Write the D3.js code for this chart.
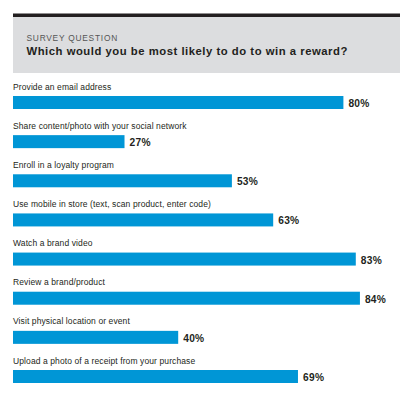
<!DOCTYPE html>
<html>
<head>
<meta charset="utf-8">
<script src="https://cdn.jsdelivr.net/npm/d3@7"></script>
<style>
html,body{margin:0;padding:0;background:#fff;}
svg{display:block;}
</style>
</head>
<body>
<svg id="chart" width="400" height="403"></svg>
<script>
const categories = [
  "Provide an email address",
  "Share content/photo with your social network",
  "Enroll in a loyalty program",
  "Use mobile in store (text, scan product, enter code)",
  "Watch a brand video",
  "Review a brand/product",
  "Visit physical location or event",
  "Upload a photo of a receipt from your purchase"
];
const values = [80, 27, 53, 63, 83, 84, 40, 69];
const headerKicker = "SURVEY QUESTION";
const headerTitle = "Which would you be most likely to do to win a reward?";

const svg = d3.select("#chart");
const font = "'Liberation Sans', Arial, sans-serif";

// header
svg.append("rect").attr("x", 13).attr("y", 17).attr("width", 387).attr("height", 56).attr("fill", "#dcdddf");
svg.append("rect").attr("x", 13).attr("y", 13.5).attr("width", 387).attr("height", 3.5).attr("fill", "#231f20");
svg.append("text").attr("x", 26.5).attr("y", 41)
  .attr("font-family", font).attr("font-size", 8.4).attr("letter-spacing", 0.75)
  .attr("fill", "#555").text(headerKicker);
svg.append("text").attr("x", 26.5).attr("y", 55)
  .attr("font-family", font).attr("font-size", 11.3).attr("font-weight", 700).attr("letter-spacing", 0.52)
  .attr("fill", "#231f20").text(headerTitle);

const x = d3.scaleLinear().domain([0, 100]).range([13, 426]);
const y = d3.scalePoint().domain(categories).range([96, 370]);
const barH = 13;

const data = categories.map((c, i) => ({c, v: values[i]}));
const g = svg.append("g");

g.selectAll("rect.bar").data(data).join("rect").attr("class", "bar")
  .attr("x", x(0)).attr("y", d => y(d.c))
  .attr("width", d => x(d.v) - x(0)).attr("height", barH)
  .attr("fill", "#0096d6");

g.selectAll("text.cat").data(data).join("text").attr("class", "cat")
  .attr("x", x(0)).attr("y", d => y(d.c) - 6.5)
  .attr("font-family", font).attr("font-size", 8.5).attr("letter-spacing", 0.1).attr("fill", "#231f20")
  .text(d => d.c);

g.selectAll("text.val").data(data).join("text").attr("class", "val")
  .attr("x", d => x(d.v) + 5).attr("y", d => y(d.c) + 11)
  .attr("font-family", font).attr("font-size", 10.2).attr("font-weight", 700).attr("letter-spacing", 0.3).attr("fill", "#231f20")
  .text(d => d.v + "%");
</script>
</body>
</html>
